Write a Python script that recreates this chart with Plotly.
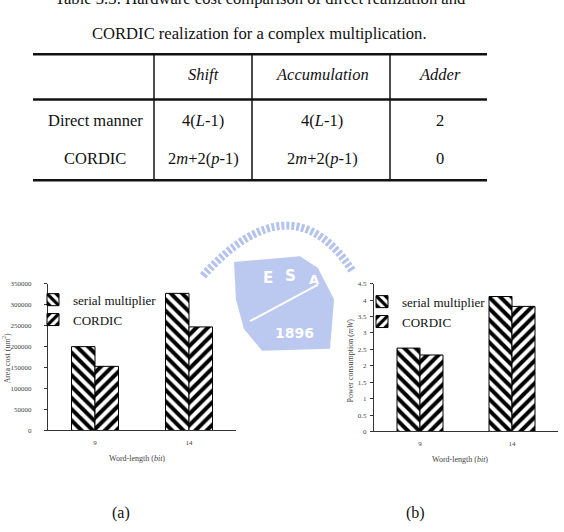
import plotly.graph_objects as go

# ---------------- data ----------------
categories = ["9", "14"]
series_names = ["serial multiplier", "CORDIC"]
area_serial = [200000, 327000]
area_cordic = [153000, 247000]
power_serial = [2.54, 4.11]
power_cordic = [2.33, 3.81]

area_ticks = [0, 50000, 100000, 150000, 200000, 250000, 300000, 350000]
power_ticks = [0, 0.5, 1, 1.5, 2, 2.5, 3, 3.5, 4, 4.5]

table_header = ["", "<i>Shift</i>", "<i>Accumulation</i>", "<i>Adder</i>"]
table_rows = [
    ["Direct manner", "4(<i>L</i>-1)", "4(<i>L</i>-1)", "2"],
    ["CORDIC", "2<i>m</i>+2(<i>p</i>-1)", "2<i>m</i>+2(<i>p</i>-1)", "0"],
]

W, H = 564, 532
def px(x):
    return x / W
def py(y):
    return 1 - y / H

SERIF = "Liberation Serif"
patterns = ["\\", "/"]

fig = go.Figure()

def bar_marker(pat):
    return dict(color="white", line=dict(color="black", width=1),
                pattern=dict(shape=pat, fgcolor="black", bgcolor="white", fgopacity=1,
                             fillmode="replace", size=8, solidity=0.5))

# chart (a)
for name, vals, pat in zip(series_names, [area_serial, area_cordic], patterns):
    fig.add_trace(go.Bar(x=categories, y=vals, name=name, xaxis="x", yaxis="y",
                         legend="legend", marker=bar_marker(pat)))
# chart (b)
for name, vals, pat in zip(series_names, [power_serial, power_cordic], patterns):
    fig.add_trace(go.Bar(x=categories, y=vals, name=name, xaxis="x2", yaxis="y2",
                         legend="legend2", marker=bar_marker(pat)))

tickfont = dict(family=SERIF, size=7, color="#444")
axis_common = dict(showline=True, linecolor="#333", linewidth=1, showgrid=False, zeroline=False,
                   tickfont=tickfont, mirror=False)

shapes = []
annotations = []

def note(text, x, y, font, **kw):
    d = dict(text=text, x=px(x), y=py(y), xref="paper", yref="paper", showarrow=False,
             font=font, xanchor="center", yanchor="middle")
    d.update(kw)
    annotations.append(d)

# ---- watermark (light blue logo) ----
wm = "#b4c2ee"
shapes.append(dict(type="path", xref="paper", yref="paper", layer="below",
                   path=f"M {px(203)},{py(276)} Q {px(292)},{py(176)} {px(353)},{py(272)}",
                   line=dict(color=wm, width=8, dash="3px,2px")))
shapes.append(dict(type="path", xref="paper", yref="paper", layer="below",
                   path=(f"M {px(234)},{py(262)} L {px(300)},{py(256)} L {px(318)},{py(268)} "
                         f"L {px(334)},{py(300)} L {px(330)},{py(350)} L {px(262)},{py(352)} "
                         f"L {px(244)},{py(330)} L {px(236)},{py(300)} Z"),
                   fillcolor=wm, line=dict(width=0), opacity=0.9))
shapes.append(dict(type="line", xref="paper", yref="paper", layer="below",
                   x0=px(250), y0=py(322), x1=px(318), y1=py(285),
                   line=dict(color="white", width=2)))
wfont = dict(family="DejaVu Sans", size=15, color="white")
note("<b>E</b>", 268, 278, wfont)
note("<b>S</b>", 290, 276, wfont)
note("<b>A</b>", 314, 280, dict(family="DejaVu Sans", size=13, color="white"))
note("<b>1896</b>", 294, 334, dict(family="DejaVu Sans", size=14, color="white"))

# ---- table ----
lc = "#111"
for y, w in [(51, 2.5), (97, 2.5), (179, 2.5)]:
    shapes.append(dict(type="line", xref="paper", yref="paper", x0=px(33), x1=px(487),
                       y0=py(y), y1=py(y), line=dict(color=lc, width=w)))
for x in [154, 252, 390]:
    shapes.append(dict(type="line", xref="paper", yref="paper", x0=px(x), x1=px(x),
                       y0=py(51), y1=py(179), line=dict(color=lc, width=1.5)))

col_x = [95, 203, 322, 440]
row_y = [72, 118, 157]
tfont = dict(family=SERIF, size=16.5, color="#111")
for r, row in enumerate([table_header] + table_rows):
    for c, txt in enumerate(row):
        if txt:
            note(txt, col_x[c], row_y[r], tfont)

titlefont = dict(family=SERIF, size=16.6, color="#111")
note("Table 3.3: Hardware cost comparison of direct realization and", 260, -6, titlefont)
note("CORDIC realization for a complex multiplication.", 259, 30, titlefont)

# ---- axis titles & captions ----
afont = dict(family=SERIF, size=8, color="#444")
note("Word-length (<i>bit</i>)", 137, 461, afont)
note("Area cost (<i>um</i><sup>2</sup>)", 6, 360, afont, textangle=-90)
note("Word-length (<i>bit</i>)", 460, 462, afont)
note("Power consumption (<i>mW</i>)", 351, 362, afont, textangle=-90)
capfont = dict(family=SERIF, size=16, color="#111")
note("(a)", 121, 517, capfont)
note("(b)", 415, 517, capfont)

legfont = dict(family=SERIF, size=13, color="#111")
fig.update_layout(
    width=W, height=H,
    margin=dict(l=0, r=0, t=0, b=0),
    paper_bgcolor="white", plot_bgcolor="white",
    barmode="group", bargap=0.5, bargroupgap=0,
    xaxis=dict(domain=[px(48), px(236)], anchor="y", range=[-0.5, 1.5], ticks="",
               ticklabelstandoff=5, **axis_common),
    yaxis=dict(domain=[py(433), py(284)], anchor="x", range=[0, 350000], tickvals=area_ticks,
               tickformat="d", ticks="outside", ticklen=3, tickcolor="#333", ticklabelstandoff=11,
               **axis_common),
    xaxis2=dict(domain=[px(374), px(558)], anchor="y2", range=[-0.5, 1.5], ticks="",
                ticklabelstandoff=5, **axis_common),
    yaxis2=dict(domain=[py(434), py(284)], anchor="x2", range=[0, 4.5], tickvals=power_ticks,
                ticks="outside", ticklen=3, tickcolor="#333", ticklabelstandoff=2, **axis_common),
    legend=dict(x=px(33), y=py(285), xanchor="left", yanchor="top", font=legfont,
                bgcolor="rgba(0,0,0,0)", itemwidth=30),
    legend2=dict(x=px(362), y=py(287), xanchor="left", yanchor="top", font=legfont,
                 bgcolor="rgba(0,0,0,0)", itemwidth=30),
    shapes=shapes, annotations=annotations,
)

fig.write_html("out.html")
